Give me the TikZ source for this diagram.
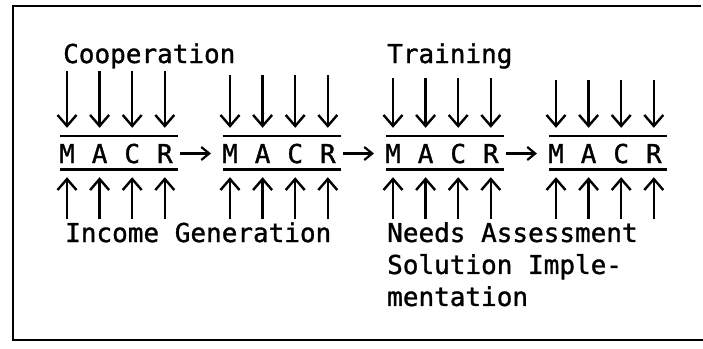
\documentclass[tikz,border=0pt]{standalone}
\usepackage{fontspec}
\usepackage{tikz}
\usetikzlibrary{arrows.meta, positioning}
\newfontfamily\macrfont[FakeBold=1.2]{DejaVu Sans Mono}
\tikzset{
  letter/.style={inner sep=0pt, anchor=base, text height=19pt, text depth=0pt},
  lbl/.style={inner sep=0pt, anchor=base west, align=left},
  bar/.style={line width=2.6pt},
  varr/.style={-{Straight Barb[length=11pt, width=19pt]}, line width=2.4pt},
  harr/.style={-{Straight Barb[length=8pt, width=13pt]}, line width=2.2pt},
}

\begin{document}
\begin{tikzpicture}[
    x=1pt, y=-1pt,
    every node/.style={font=\macrfont\fontsize{26}{32}\selectfont}
  ]
  \useasboundingbox (0,0) rectangle (703,348);

  % frame
  \draw[line width=1.8pt] (701,6) -- (13,6) -- (13,340) -- (703,340);

  \node[lbl] (coop) at (63,63) {Cooperation};
  \node[lbl] (train) at (387,63) {Training};
  \node[lbl] (income) at (65,242) {Income Generation};
  \node[lbl, anchor=north west] (needs) at (387,222) {Needs Assessment\\Solution Imple-\\mentation};

  \foreach \b/\x/\t in {1/67/71, 2/230/75, 3/393/78, 4/556/80} {
    \foreach \l [count=\i from 0] in {M,A,C,R} {
      \node[letter] (\l\b) at (\x+32.6*\i, 163) {\l};
      \coordinate (d\l\b) at (\x+32.6*\i, \t);
      \coordinate (u\l\b) at (\x+32.6*\i, 219);
      \draw[varr] (d\l\b) -- ([yshift=16pt]\l\b.north);
      \draw[varr] (u\l\b) -- ([yshift=-14pt]\l\b.south);
    }
    \draw[bar] ([xshift=1pt, yshift=8pt]M\b.north west) -- ([xshift=5pt, yshift=8pt]R\b.north east);
    \draw[bar] ([xshift=1pt, yshift=-6pt]M\b.south west) -- ([xshift=5pt, yshift=-6pt]R\b.south east);
  }

  \foreach \a/\b in {1/2, 2/3, 3/4}
    \draw[harr] ([xshift=7pt]R\a.east) -- ([xshift=-11pt]M\b.west);

\end{tikzpicture}
\end{document}
